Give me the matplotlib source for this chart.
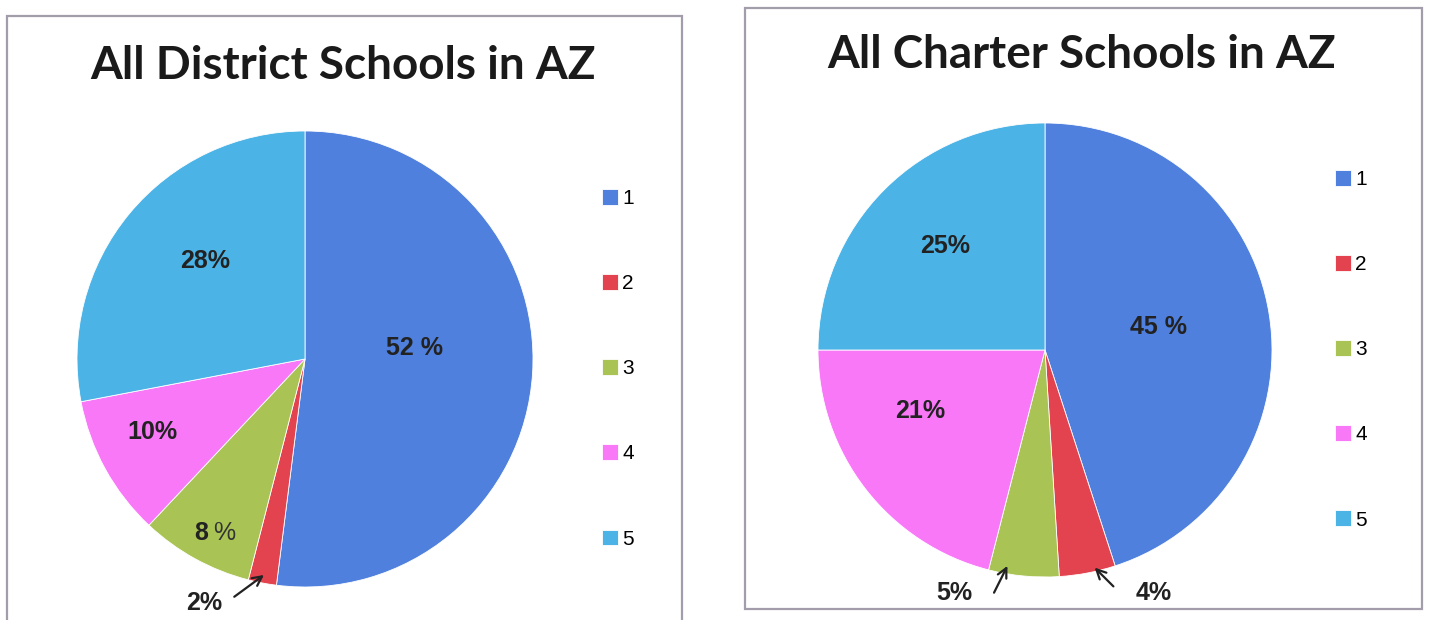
import matplotlib.pyplot as plt
from matplotlib.patches import Rectangle

categories = ['1', '2', '3', '4', '5']
district_values = [52, 2, 8, 10, 28]
charter_values = [45, 4, 5, 21, 25]
district_labels = ['52 %', '2%', '8 %', '10%', '28%']
charter_labels = ['45 %', '4%', '5%', '21%', '25%']
titles = ['All District Schools in AZ', 'All Charter Schools in AZ']

colors = ['#4f80dd', '#e2434f', '#a9c355', '#f878f8', '#4cb3e6']

W, H = 1430, 620
fig = plt.figure(figsize=(W / 100, H / 100), dpi=100)
fig.patch.set_facecolor('white')

# panel frames (pixel coords)
for (x0, y0, x1, y1) in [(7, 16, 682, 625), (745, 8, 1422, 609)]:
    fig.add_artist(Rectangle((x0 / W, 1 - y1 / H), (x1 - x0) / W, (y1 - y0) / H,
                             transform=fig.transFigure, fill=False,
                             edgecolor='#a39dab', linewidth=1.6))

# label positions relative to the pie (units of radius) -- layout only
district_pos = [(0.48, 0.05), None, (-0.385, -0.765), (-0.67, -0.32), (-0.44, 0.43)]
charter_pos = [(0.50, 0.10), None, None, (-0.55, -0.27), (-0.44, 0.46)]
# callouts for the small slices: (text xy, arrow tail, arrow head)
district_call = {1: ((-0.44, -1.07), (-0.32, -1.05), (-0.17, -0.94))}
charter_call = {2: ((-0.40, -1.07), (-0.23, -1.08), (-0.16, -0.94)),
                1: ((0.48, -1.07), (0.31, -1.05), (0.21, -0.95))}

panels = [
    dict(values=district_values, labels=district_labels, pos=district_pos,
         call=district_call, center=(305, 359), r=228, title_xy=(343, 66),
         leg_xy=(602, 189)),
    dict(values=charter_values, labels=charter_labels, pos=charter_pos,
         call=charter_call, center=(1045, 350), r=227, title_xy=(1082, 55),
         leg_xy=(1335, 170)),
]

lab_font = dict(family='Liberation Sans', fontweight='bold', fontsize=18, color='#222222')

for i, p in enumerate(panels):
    cx, cy = p['center']
    r = p['r']
    ax = fig.add_axes([(cx - r) / W, (H - cy - r) / H, 2 * r / W, 2 * r / H])
    wedges, _ = ax.pie(p['values'], colors=colors, startangle=90, counterclock=False,
                       radius=1, wedgeprops=dict(edgecolor='white', linewidth=0.6))
    ax.set_xlim(-1, 1)
    ax.set_ylim(-1, 1)
    ax.set_aspect('equal')
    ax.axis('off')

    for k, xy in enumerate(p['pos']):
        if xy is None:
            continue
        txt = p['labels'][k]
        if txt == '8 %':
            ax.text(xy[0] - 0.04, xy[1], '8', ha='right', va='center', **lab_font)
            ax.text(xy[0] - 0.02, xy[1], '%', ha='left', va='center',
                    family='Liberation Sans', fontsize=18, color='#333333')
        else:
            ax.text(xy[0], xy[1], txt, ha='center', va='center', **lab_font)

    for k, (txy, tail, head) in p['call'].items():
        ax.text(txy[0], txy[1], p['labels'][k], ha='center', va='center', **lab_font)
        ax.annotate('', xy=head, xytext=tail,
                    arrowprops=dict(arrowstyle='->', color='#222222', lw=1.6,
                                    mutation_scale=17), annotation_clip=False)

    tx, ty = p['title_xy']
    fig.text(tx / W, 1 - ty / H, titles[i], ha='center', va='center',
             family='Lato', fontweight='bold', fontsize=33, color='#1a1a1a')

    lx, ly = p['leg_xy']
    fig.legend(wedges, categories, loc='upper left',
               bbox_to_anchor=(lx / W, 1 - ly / H), frameon=False,
               prop=dict(family='Liberation Sans', size=15),
               handlelength=0.78, handleheight=0.78, handletextpad=0.2,
               labelspacing=3.17, borderpad=0, borderaxespad=0)

fig.savefig('out.png', dpi=100, facecolor='white')
